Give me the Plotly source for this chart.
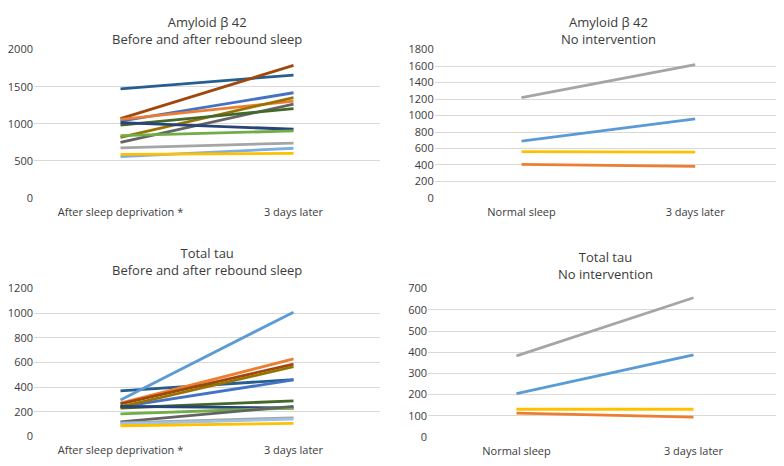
import plotly.graph_objects as go

W, H = 784, 466
# the page body adds an 8px margin, so layout positions are shifted back by it
OFF = 8

# Category labels
rebound_labels = ["After sleep deprivation *", "3 days later"]
control_labels = ["Normal sleep", "3 days later"]

# Amyloid beta 42, rebound sleep group (before, after)
ab42_rebound_before = [1470, 1070, 1035, 1060, 818, 748, 982, 1014, 839, 674, 557, 587]
ab42_rebound_after = [1657, 1787, 1418, 1305, 1353, 1265, 1204, 926, 904, 740, 670, 600]
ab42_rebound_colors = ["#255E91", "#9E480E", "#4472C4", "#ED7D31", "#997300", "#636363",
                       "#43682B", "#264478", "#70AD47", "#A5A5A5", "#7CAFDD", "#FFC000"]

# Amyloid beta 42, no intervention
ab42_control_before = [1217, 689, 563, 407]
ab42_control_after = [1617, 959, 556, 384]
control_colors = ["#A5A5A5", "#5B9BD5", "#FFC000", "#ED7D31"]

# Total tau, rebound sleep group
tau_rebound_before = [370, 240, 270, 263, 240, 230, 243, 183, 118, 110, 100, 86, 296]
tau_rebound_after = [461, 458, 629, 587, 566, 288, 230, 230, 244, 150, 140, 105, 1009]
tau_rebound_colors = ["#255E91", "#4472C4", "#ED7D31", "#9E480E", "#997300", "#43682B",
                      "#264478", "#70AD47", "#636363", "#A5A5A5", "#9DC3E6", "#FFC000", "#5B9BD5"]

# Total tau, no intervention
tau_control_before = [383, 205, 131, 113]
tau_control_after = [657, 387, 131, 94]

FONT = "Open Sans, Noto Sans, sans-serif"
GRID = "#D9D9D9"
TEXT = "#3b3b3b"


def px_x(a, b):
    return [(a - OFF) / W, (b - OFF) / W]


def px_y(bottom, top):
    return [(H - bottom + OFF) / H, (H - top + OFF) / H]


panels = [
    dict(before=ab42_rebound_before, after=ab42_rebound_after, colors=ab42_rebound_colors,
         labels=rebound_labels, xdom=px_x(34, 380), ydom=px_y(196, 42.7), yrange=[0, 2000],
         dtick=500, title="Amyloid β 42<br>Before and after rebound sleep", ty=22.5),
    dict(before=ab42_control_before, after=ab42_control_after, colors=control_colors,
         labels=control_labels, xdom=px_x(434.7, 782), ydom=px_y(196, 42.7), yrange=[0, 1800],
         dtick=200, title="Amyloid β 42<br>No intervention", ty=22.5),
    dict(before=tau_rebound_before, after=tau_rebound_after, colors=tau_rebound_colors,
         labels=rebound_labels, xdom=px_x(34, 380), ydom=px_y(442.3, 289.7), yrange=[0, 1200],
         dtick=200, title="Total tau<br>Before and after rebound sleep", ty=262),
    dict(before=tau_control_before, after=tau_control_after, colors=control_colors,
         labels=control_labels, xdom=px_x(428, 782), ydom=px_y(443, 289.7), yrange=[0, 700],
         dtick=100, title="Total tau<br>No intervention", ty=266),
]

fig = go.Figure()
annotations = []

for i, p in enumerate(panels, start=1):
    xa = "x" if i == 1 else f"x{i}"
    ya = "y" if i == 1 else f"y{i}"
    for b, a, c in zip(p["before"], p["after"], p["colors"]):
        fig.add_trace(
            go.Scatter(
                x=[0, 1], y=[b, a], mode="lines",
                line=dict(color=c, width=2.8),
                xaxis=xa, yaxis=ya, showlegend=False, hoverinfo="skip",
            )
        )
    xkey = "xaxis" if i == 1 else f"xaxis{i}"
    ykey = "yaxis" if i == 1 else f"yaxis{i}"
    fig.update_layout(**{
        xkey: dict(
            domain=p["xdom"], range=[-0.5, 1.5], anchor=ya,
            tickvals=[0, 1], ticktext=p["labels"], showgrid=False, zeroline=False,
            showline=False, ticks="", ticklabelstandoff=6,
            tickfont=dict(family=FONT, size=11, color=TEXT), fixedrange=True,
        ),
        ykey: dict(
            domain=p["ydom"], range=p["yrange"], anchor=xa, dtick=p["dtick"],
            showgrid=True, gridcolor=GRID, gridwidth=1, zeroline=False, showline=False,
            ticks="", tickfont=dict(family=FONT, size=11, color=TEXT), fixedrange=True,
        ),
    })
    # two-line panel title
    annotations.append(dict(
        text=p["title"], x=(p["xdom"][0] + p["xdom"][1]) / 2, y=(H - p["ty"] + OFF) / H,
        xref="paper", yref="paper", xanchor="center", yanchor="middle", showarrow=False,
        align="center", font=dict(family=FONT, size=13, color=TEXT),
    ))

fig.update_layout(
    width=W, height=H,
    margin=dict(l=0, r=0, t=0, b=0),
    plot_bgcolor="white", paper_bgcolor="white",
    annotations=annotations,
    showlegend=False,
)

fig.write_html("out.html")
